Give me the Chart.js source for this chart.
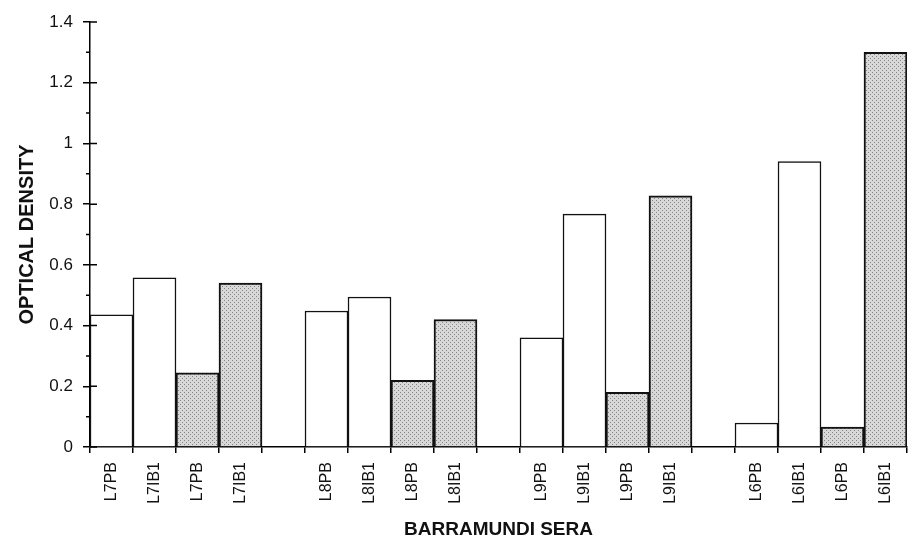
<!DOCTYPE html>
<html>
<head>
<meta charset="utf-8">
<script src="https://cdn.jsdelivr.net/npm/chart.js@4"></script>
<style>
  html, body { margin: 0; padding: 0; background: #fff; }
  #wrap { width: 909px; height: 539px; }
</style>
</head>
<body>
<div id="wrap"><canvas id="chart"></canvas></div>
<script>
  // Barramundi sera, optical density
  const categories = [
    "L7PB", "L7IB1", "L7PB", "L7IB1", "",
    "L8PB", "L8IB1", "L8PB", "L8IB1", "",
    "L9PB", "L9IB1", "L9PB", "L9IB1", "",
    "L6PB", "L6IB1", "L6PB", "L6IB1",
  ];
  const openValues = [
    0.435, 0.557, null, null, null,
    0.448, 0.494, null, null, null,
    0.36, 0.767, null, null, null,
    0.079, 0.94, null, null,
  ];
  const shadedValues = [
    null, null, 0.244, 0.54, null,
    null, null, 0.22, 0.42, null,
    null, null, 0.18, 0.827, null,
    null, null, 0.066, 1.3,
  ];
  const yTicks = [0, 0.2, 0.4, 0.6, 0.8, 1, 1.2, 1.4];

  Chart.defaults.font.family = "'Liberation Sans', Arial, sans-serif";
  Chart.defaults.color = "#111";

  const ctx = document.getElementById("chart").getContext("2d");

  function stipple() {
    const c = document.createElement("canvas");
    c.width = c.height = 4;
    const g = c.getContext("2d");
    g.fillStyle = "#d8d8d8";
    g.fillRect(0, 0, 4, 4);
    g.fillStyle = "#858585";
    g.fillRect(0, 0, 1, 1);
    g.fillRect(2, 2, 1, 1);
    return ctx.createPattern(c, "repeat");
  }

  // major ticks cross the axis, minor ticks sit on the outside
  const axisTicks = {
    id: "axisTicks",
    afterDraw(chart) {
      const y = chart.scales.y;
      const x0 = y.right;
      const c = chart.ctx;
      c.save();
      c.strokeStyle = "#000";
      c.lineWidth = 1.5;
      c.beginPath();
      yTicks.forEach((v, i) => {
        const p = y.getPixelForValue(v);
        c.moveTo(x0, p);
        c.lineTo(x0 + 7, p);
        if (i > 0) {
          const m = y.getPixelForValue((v + yTicks[i - 1]) / 2);
          c.moveTo(x0 - 4, m);
          c.lineTo(x0, m);
        }
      });
      c.stroke();
      c.restore();
    },
  };

  new Chart(ctx, {
    type: "bar",
    data: {
      labels: categories,
      datasets: [
        {
          data: openValues,
          backgroundColor: "#fff",
          borderColor: "#111",
          borderWidth: 1.5,
        },
        {
          data: shadedValues,
          backgroundColor: stipple(),
          borderColor: "#111",
          borderWidth: 2,
        },
      ],
    },
    options: {
      responsive: true,
      maintainAspectRatio: false,
      animation: false,
      layout: { padding: { top: 22, right: 2, bottom: 0, left: 0 } },
      datasets: {
        bar: { grouped: false, categoryPercentage: 1, barPercentage: 1 },
      },
      plugins: {
        legend: { display: false },
        tooltip: { enabled: false },
      },
      scales: {
        x: {
          grid: {
            offset: true,
            drawOnChartArea: false,
            drawTicks: true,
            tickLength: 6,
            color: "#000",
            lineWidth: 1.5,
          },
          border: { color: "#000", width: 1.5 },
          ticks: {
            autoSkip: false,
            maxRotation: 90,
            minRotation: 90,
            padding: 9,
            font: { size: 16 },
            color: "#111",
          },
          title: {
            display: true,
            text: "BARRAMUNDI SERA",
            font: { size: 19, weight: "bold", lineHeight: 1 },
            padding: { top: 0, bottom: 0 },
            color: "#111",
          },
          afterFit(scale) {
            scale.height = 92;
            scale.paddingLeft = 0;
            scale.paddingRight = 0;
          },
        },
        y: {
          min: 0,
          max: 1.4,
          afterBuildTicks(scale) {
            scale.ticks = yTicks.map((v) => ({ value: v }));
          },
          grid: {
            drawOnChartArea: false,
            drawTicks: true,
            tickLength: 7,
            color: "#000",
            lineWidth: 1.5,
          },
          border: { color: "#000", width: 1.5 },
          ticks: {
            padding: 10,
            font: { size: 17 },
            color: "#111",
            callback: (v) => String(+Number(v).toFixed(1)),
          },
          title: {
            display: true,
            text: "OPTICAL DENSITY",
            font: { size: 20, weight: "bold", lineHeight: 1 },
            padding: { top: 17, bottom: 0 },
            color: "#111",
          },
          afterFit(scale) {
            scale.width = 90;
          },
        },
      },
    },
    plugins: [axisTicks],
  });
</script>
</body>
</html>
